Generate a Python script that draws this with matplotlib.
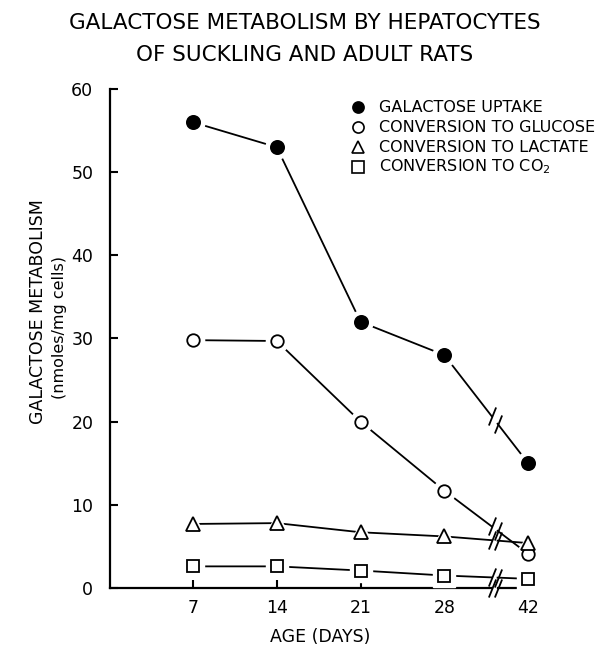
import numpy as np
import matplotlib
matplotlib.use('Agg')
import matplotlib.pyplot as plt

# age of the rats (days) and measured galactose metabolism (nmoles/mg cells)
ages = ['7', '14', '21', '28', '42']
uptake = [56.0, 53.0, 32.0, 28.0, 15.0]
glucose = [29.8, 29.7, 20.0, 11.7, 4.1]
lactate = [7.7, 7.8, 6.7, 6.2, 5.4]
co2 = [2.6, 2.6, 2.1, 1.5, 1.1]

labels = ['GALACTOSE UPTAKE', 'CONVERSION TO GLUCOSE',
          'CONVERSION TO LACTATE', 'CONVERSION TO CO$_2$']

plt.rcParams['font.family'] = 'DejaVu Sans'

fig = plt.figure(figsize=(6.09, 6.49), dpi=100)
ax = fig.add_axes([0.1806, 0.0940, 0.6908, 0.7689])

x = np.arange(1, len(ages) + 1)
brk = 0.6        # where the axis break sits between 28 and 42
gap = 0.035      # half width of the break gap (data units)
slash = [(-0.4, -1.0), (0.4, 1.0)]

styles = [
    (uptake, 'o', 'black', 9.5),
    (glucose, 'o', 'white', 9.0),
    (lactate, '^', 'white', 9.5),
    (co2, 's', 'white', 8.5),
]

for y, mk, fc, ms in styles:
    y = np.asarray(y)
    xb = x[3] + brk
    slope = (y[4] - y[3])
    y1 = y[3] + slope * (brk - gap)
    y2 = y[3] + slope * (brk + gap)
    # connecting lines, broken between 28 and 42
    ax.plot(list(x[:4]) + [xb - gap], list(y[:4]) + [y1],
            color='black', lw=1.3, clip_on=False, zorder=2)
    ax.plot([xb + gap, x[4]], [y2, y[4]],
            color='black', lw=1.3, clip_on=False, zorder=2)
    ax.plot([xb - gap, xb + gap], [y1, y2], ls='none', marker=slash,
            ms=13, mew=1.3, color='black', clip_on=False, zorder=3)
    # white halo keeps a small gap between line and symbol
    ax.plot(x, y, ls='none', marker=mk, ms=ms + 7, mfc='white', mec='white',
            clip_on=False, zorder=4)
    ax.plot(x, y, ls='none', marker=mk, ms=ms, mfc=fc, mec='black',
            mew=1.3, clip_on=False, zorder=5)

ax.set_xlim(0.01, 5.03)
ax.set_ylim(0, 60)

# bottom axis drawn by hand so it can carry the break
ax.spines['bottom'].set_visible(False)
ax.spines['top'].set_visible(False)
ax.spines['right'].set_visible(False)
ax.spines['left'].set_linewidth(1.6)
xb = x[3] + brk
ax.plot([0.01, xb - gap], [0, 0], color='black', lw=1.6, clip_on=False, zorder=1)
ax.plot([xb + gap, 5.03], [0, 0], color='black', lw=1.6, clip_on=False, zorder=1)
ax.plot([xb - gap, xb + gap], [0, 0], ls='none', marker=slash, ms=13,
        mew=1.3, color='black', clip_on=False, zorder=3)

ax.set_xticks(x)
ax.set_xticklabels(ages)
ax.set_yticks(np.arange(0, 61, 10))
ax.tick_params(direction='in', length=6, width=1.5, labelsize=12.5, pad=8)
ax.tick_params(axis='y', pad=12)

ax.set_xlabel('AGE (DAYS)', fontsize=12.5, labelpad=8)
fig.text(0.063, 0.52, 'GALACTOSE METABOLISM', rotation=90, fontsize=12.5,
         ha='center', va='center')
fig.text(0.098, 0.495, '(nmoles/mg cells)', rotation=90, fontsize=11.5,
         ha='center', va='center')

fig.text(0.5, 0.964, 'GALACTOSE METABOLISM BY HEPATOCYTES', fontsize=15.5,
         ha='center', va='center')
fig.text(0.5, 0.916, 'OF SUCKLING AND ADULT RATS', fontsize=15.5,
         ha='center', va='center')

# legend drawn as a column of symbols and text
fc_list = ['black', 'white', 'white', 'white']
mk_list = ['o', 'o', '^', 's']
for i, lab in enumerate(labels):
    yy = 1 - (107 + 20 * i) / 649
    fig.lines.append(plt.Line2D([358 / 609], [yy], transform=fig.transFigure,
                                ls='none', marker=mk_list[i], ms=8,
                                mfc=fc_list[i], mec='black', mew=1.2))
    fig.text(379 / 609, yy, lab, fontsize=11.5, ha='left', va='center')

fig.savefig('out.png', dpi=100)
